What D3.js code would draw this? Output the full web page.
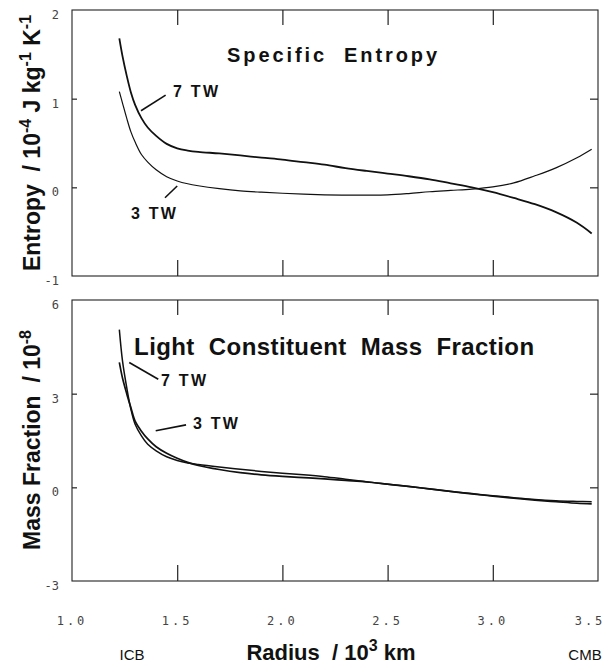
<!DOCTYPE html>
<html>
<head>
<meta charset="utf-8">
<script src="https://cdn.jsdelivr.net/npm/d3@7"></script>
<style>
  body { margin: 0; background: #fff; }
  svg { display: block; }
  text { white-space: pre; }
</style>
</head>
<body>
<svg id="chart"></svg>
<script>
// radius grid, 10^3 km (ICB ~1.22, CMB ~3.48)
const radius = [1.225, 1.24, 1.26, 1.28, 1.30, 1.33, 1.36, 1.40, 1.45, 1.50, 1.55, 1.60, 1.70, 1.80, 1.90,
  2.00, 2.10, 2.20, 2.30, 2.40, 2.50, 2.60, 2.70, 2.80, 2.90, 3.00, 3.10, 3.20, 3.30, 3.40, 3.47];

// specific entropy, 10^-4 J/kg/K
const entropy7 = [1.68, 1.48, 1.26, 1.07, 0.93, 0.78, 0.675, 0.58, 0.49, 0.44, 0.415, 0.40, 0.382, 0.36, 0.335,
  0.313, 0.284, 0.255, 0.217, 0.185, 0.155, 0.125, 0.09, 0.045, 0.0, -0.055, -0.12, -0.19, -0.28, -0.40, -0.52];
const entropy3 = [1.08, 0.95, 0.78, 0.625, 0.51, 0.37, 0.285, 0.198, 0.12, 0.072, 0.04, 0.018, -0.015, -0.04, -0.055,
  -0.067, -0.077, -0.084, -0.088, -0.088, -0.085, -0.07, -0.05, -0.035, -0.02, 0.005, 0.05, 0.13, 0.22, 0.334, 0.43];

// light constituent mass fraction, 10^-8
const fraction7 = [5.05, 4.05, 3.2, 2.5, 2.02, 1.65, 1.38, 1.17, 0.98, 0.86, 0.78, 0.73, 0.65, 0.58, 0.51,
  0.45, 0.40, 0.34, 0.26, 0.18, 0.10, 0.03, -0.05, -0.13, -0.20, -0.27, -0.33, -0.39, -0.43, -0.45, -0.46];
const fraction3 = [4.0, 3.5, 3.0, 2.55, 2.12, 1.80, 1.55, 1.30, 1.09, 0.93, 0.80, 0.70, 0.57, 0.47, 0.40,
  0.35, 0.31, 0.27, 0.22, 0.17, 0.10, 0.03, -0.05, -0.13, -0.21, -0.28, -0.35, -0.41, -0.46, -0.51, -0.53];

const xTicks = [1.0, 1.5, 2.0, 2.5, 3.0, 3.5];
const entropyTicks = [-1, 0, 1, 2];
const fractionTicks = [-3, 0, 3, 6];

const width = 615, height = 664;
const left = 72, right = 598;

const svg = d3.select('#chart')
  .attr('width', width)
  .attr('height', height);

const x = d3.scaleLinear().domain([1, 3.5]).range([left, right]);

const sans = 'Liberation Sans, Arial, Helvetica, sans-serif';
const mono = 'DejaVu Sans Mono, Liberation Mono, monospace';

function panel(cfg){
  const y = d3.scaleLinear().domain(cfg.domain).range([cfg.bottom, cfg.top]);
  const g = svg.append('g');

  // frame
  g.append('rect')
    .attr('x', left).attr('y', cfg.top)
    .attr('width', right - left).attr('height', cfg.bottom - cfg.top)
    .attr('fill', 'none').attr('stroke', '#222').attr('stroke-width', 1.1);

  // inward ticks
  const inner = [1.5, 2.0, 2.5, 3.0];
  g.append('g').attr('transform', `translate(0,${cfg.top})`)
    .call(d3.axisTop(x).tickValues(inner).tickSize(-15).tickFormat(''))
    .call(a => a.select('.domain').remove());
  g.append('g').attr('transform', `translate(0,${cfg.bottom})`)
    .call(d3.axisBottom(x).tickValues(inner).tickSize(-16).tickFormat(''))
    .call(a => a.select('.domain').remove());
  const yin = cfg.ticks.slice(1, -1);
  g.append('g').attr('transform', `translate(${left},0)`)
    .call(d3.axisLeft(y).tickValues(yin).tickSize(-5).tickFormat(''))
    .call(a => a.select('.domain').remove());
  g.append('g').attr('transform', `translate(${right},0)`)
    .call(d3.axisRight(y).tickValues(yin).tickSize(-8).tickFormat(''))
    .call(a => a.select('.domain').remove());
  g.selectAll('.tick line').attr('stroke', '#222').attr('stroke-width', 1.2);

  // y tick labels
  g.selectAll('.ylab')
    .data(cfg.ticks)
    .enter()
    .append('text')
    .attr('x', 59)
    .attr('y', d => y(d) + 9)
    .attr('text-anchor', 'end')
    .attr('font-family', mono)
    .attr('font-size', 12)
    .attr('fill', '#444')
    .text(d => d < 0 ? '-' + Math.abs(d) : d);

  // curves
  const line = d3.line()
    .x(d => x(d[0]))
    .y(d => y(d[1]))
    .curve(d3.curveCatmullRom.alpha(0.5));
  cfg.series.forEach(s => {
    g.append('path')
      .datum(radius.map((r, i) => [r, s.values[i]]))
      .attr('d', line)
      .attr('fill', 'none')
      .attr('stroke', '#111')
      .attr('stroke-width', s.width);
  });

  // series labels with leader lines
  cfg.notes.forEach(n => {
    g.append('line')
      .attr('x1', x(n.from[0])).attr('y1', y(n.from[1]))
      .attr('x2', x(n.to[0])).attr('y2', y(n.to[1]))
      .attr('stroke', '#111').attr('stroke-width', 1.6);
    g.append('text')
      .attr('x', x(n.at[0])).attr('y', y(n.at[1]))
      .attr('font-family', sans)
      .attr('font-weight', 'bold')
      .attr('font-size', 16)
      .attr('textLength', 45)
      .attr('lengthAdjust', 'spacing')
      .attr('fill', '#111')
      .text(n.text);
  });

  // panel title
  g.append('text')
    .attr('x', x(cfg.title.at[0])).attr('y', y(cfg.title.at[1]))
    .attr('font-family', sans)
    .attr('font-weight', 'bold')
    .attr('font-size', cfg.title.size)
    .attr('textLength', cfg.title.len)
    .attr('lengthAdjust', 'spacing')
    .attr('fill', '#111')
    .text(cfg.title.text);

  return y;
}

panel({
  top: 10, bottom: 276, domain: [-1, 2], ticks: entropyTicks,
  series: [{values: entropy7, width: 1.8}, {values: entropy3, width: 1.2}],
  notes: [
    {text: '7 TW', at: [1.48, 1.02], from: [1.445, 1.04], to: [1.328, 0.864]},
    {text: '3 TW', at: [1.28, -0.357], from: [1.442, -0.117], to: [1.50, 0.015]}
  ],
  title: {text: 'Specific  Entropy', at: [1.737, 1.41], size: 20, len: 210}
});

panel({
  top: 300, bottom: 581, domain: [-3, 6], ticks: fractionTicks,
  series: [{values: fraction7, width: 1.5}, {values: fraction3, width: 1.7}],
  notes: [
    {text: '7 TW', at: [1.423, 3.255], from: [1.272, 4.0], to: [1.41, 3.46]},
    {text: '3 TW', at: [1.575, 1.87], from: [1.542, 2.0], to: [1.398, 1.81]}
  ],
  title: {text: 'Light  Constituent  Mass  Fraction', at: [1.295, 4.25], size: 24, len: 400}
});

// x tick labels under the lower panel
svg.selectAll('.xlab')
  .data(xTicks)
  .enter()
  .append('text')
  .attr('x', d => Math.min(x(d), 590))
  .attr('y', 625)
  .attr('text-anchor', 'middle')
  .attr('font-family', mono)
  .attr('font-size', 12)
  .attr('letter-spacing', 3)
  .attr('fill', '#444')
  .text(d => d.toFixed(1));

// boundary names
svg.append('text')
  .attr('x', 132).attr('y', 660)
  .attr('text-anchor', 'middle')
  .attr('font-family', sans).attr('font-size', 15).attr('fill', '#111')
  .text('ICB');
svg.append('text')
  .attr('x', 585).attr('y', 660)
  .attr('text-anchor', 'middle')
  .attr('font-family', sans).attr('font-size', 15).attr('fill', '#111')
  .text('CMB');

// x axis title
const xt = svg.append('text')
  .attr('x', 331).attr('y', 660)
  .attr('text-anchor', 'middle')
  .attr('font-family', sans).attr('font-weight', 'bold').attr('font-size', 22).attr('fill', '#111');
xt.append('tspan').text('Radius  / 10');
xt.append('tspan').attr('dy', -9).attr('font-size', 16).text('3');
xt.append('tspan').attr('dy', 9).text(' km');

// y axis titles (rotated)
function yTitle(cy, parts){
  const t = svg.append('text')
    .attr('transform', `translate(40,${cy}) rotate(-90)`)
    .attr('text-anchor', 'middle')
    .attr('font-family', sans).attr('font-weight', 'bold').attr('font-size', 23).attr('fill', '#111');
  let shift = 0;
  parts.forEach(p => {
    const sp = t.append('tspan').text(p[0]);
    const target = p[1] ? -9 : 0;
    if (target !== shift) sp.attr('dy', target - shift);
    if (p[1]) sp.attr('font-size', 16);
    shift = target;
  });
}
yTitle(143, [['Entropy  / 10'], ['-4', true], [' J kg'], ['-1', true], [' K'], ['-1', true]]);
yTitle(440, [['Mass Fraction  / 10'], ['-8', true]]);
</script>
</body>
</html>
